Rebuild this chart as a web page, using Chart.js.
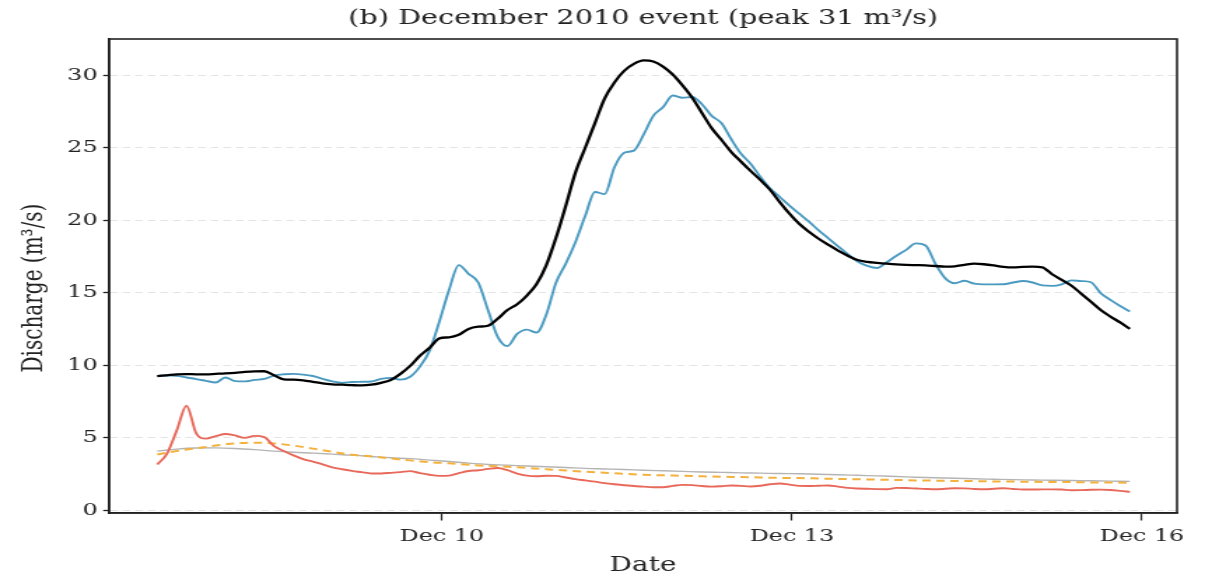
<!DOCTYPE html>
<html>
<head>
<meta charset="utf-8">
<script src="https://cdn.jsdelivr.net/npm/chart.js@4.4.0/dist/chart.umd.min.js"></script>
<style>
  html, body { margin: 0; padding: 0; background: #fff; }
  canvas { display: block; }
</style>
</head>
<body>
<!-- drawn narrow and stretched sideways, like the source figure -->
<canvas id="chart" width="866" height="575" style="width:1212px;height:575px"></canvas>
<script>
// time axis: day of December 2010
const START_DAY = 7.5625;   // 7 Dec 13:30
const STEP_MAIN = 2;        // hours between readings
const STEP_SMOOTH = 4;

const TITLE = '(b) December 2010 event (peak 31 m³/s)';
const Y_LABEL = 'Discharge (m³/s)';
const tickDays = [10, 13, 16];
const tickLabels = ['Dec 10', 'Dec 13', 'Dec 16'];

// blue, every 2 h
const observed = [
  9.25, 9.3, 9.26, 9.15, 9.04, 8.92, 8.8, 9.15, 8.9, 8.88,
  8.98, 9.05, 9.28, 9.37, 9.4, 9.35, 9.25, 9.05, 8.88, 8.78,
  8.84, 8.85, 8.87, 9.05, 9.12, 9.0, 9.2, 9.9, 11.0, 13.0,
  15.2, 16.9, 16.3, 15.7, 13.8, 11.95, 11.31, 12.15, 12.45, 12.25,
  13.5, 15.7, 17.0, 18.5, 20.3, 21.95, 21.8, 23.65, 24.65, 24.8,
  25.9, 27.2, 27.8, 28.6, 28.45, 28.5, 28.0, 27.2, 26.7, 25.6,
  24.6, 23.9, 23.0, 22.2, 21.6, 21.0, 20.45, 19.9, 19.3, 18.75,
  18.2, 17.65, 17.15, 16.85, 16.7, 17.1, 17.55, 17.95, 18.4, 18.25,
  17.0, 16.0, 15.65, 15.82, 15.62, 15.57, 15.57, 15.58, 15.7, 15.8,
  15.7, 15.5, 15.47, 15.58, 15.85, 15.8, 15.72, 14.97, 14.5, 14.08,
  13.7
];

// black, every 2 h
const simulated = [
  9.24, 9.3, 9.36, 9.38, 9.37, 9.37, 9.4, 9.43, 9.47, 9.53,
  9.57, 9.58, 9.3, 9.02, 9.0, 8.95, 8.85, 8.74, 8.68, 8.65,
  8.62, 8.6, 8.65, 8.78, 8.98, 9.4, 9.95, 10.65, 11.2, 11.85,
  11.92, 12.1, 12.5, 12.65, 12.72, 13.2, 13.8, 14.2, 14.8, 15.6,
  16.9, 18.8, 21.0, 23.3, 25.0, 26.7, 28.4, 29.5, 30.3, 30.78,
  31.02, 30.95, 30.6, 30.05, 29.3, 28.45, 27.4, 26.35, 25.55, 24.72,
  24.05, 23.4, 22.78, 22.1, 21.25, 20.45, 19.75, 19.2, 18.72, 18.3,
  17.9, 17.55, 17.25, 17.13, 17.06, 17.0, 16.95, 16.92, 16.9, 16.88,
  16.84, 16.8, 16.82, 16.92, 17.0, 16.96, 16.88, 16.78, 16.74, 16.78,
  16.8, 16.75, 16.27, 15.88, 15.48, 14.93, 14.37, 13.8, 13.35, 12.95,
  12.5
];

// red, every 2 h
const quickflow = [
  3.15, 3.9, 5.5, 7.2, 5.3, 4.93, 5.1, 5.25, 5.15, 4.98,
  5.12, 5.04, 4.41, 4.08, 3.78, 3.52, 3.35, 3.15, 2.95, 2.82,
  2.71, 2.62, 2.53, 2.53, 2.57, 2.62, 2.69, 2.55, 2.44, 2.36,
  2.38, 2.55, 2.7, 2.75, 2.84, 2.9, 2.75, 2.52, 2.38, 2.34,
  2.37, 2.36, 2.25, 2.14, 2.05, 1.96, 1.86, 1.78, 1.71, 1.66,
  1.62, 1.58, 1.58, 1.67, 1.74, 1.72, 1.66, 1.62, 1.65, 1.7,
  1.67, 1.63, 1.68, 1.78, 1.84, 1.76, 1.67, 1.66, 1.68, 1.7,
  1.62, 1.53, 1.49, 1.47, 1.45, 1.44, 1.53, 1.52, 1.49, 1.46,
  1.44, 1.47, 1.51, 1.5, 1.46, 1.44, 1.47, 1.51, 1.46, 1.42,
  1.42, 1.43, 1.43, 1.42, 1.37, 1.38, 1.4, 1.41, 1.39, 1.33,
  1.26
];

// orange dashed and grey, every 4 h
const interflow = [
  3.84, 4.08, 4.26, 4.45, 4.6, 4.65, 4.6, 4.45, 4.24, 4.02,
  3.82, 3.7, 3.56, 3.43, 3.3, 3.23, 3.13, 3.05, 2.99, 2.91,
  2.82, 2.73, 2.65, 2.58, 2.5, 2.44, 2.4, 2.37, 2.33, 2.3,
  2.28, 2.25, 2.22, 2.21, 2.18, 2.15, 2.13, 2.1, 2.08, 2.05,
  2.03, 2.01, 2.0, 1.98, 1.97, 1.95, 1.94, 1.93, 1.91, 1.9,
  1.89
];
const baseflow = [
  4.07, 4.21, 4.28, 4.29, 4.25, 4.17, 4.07, 3.99, 3.93, 3.86,
  3.79, 3.7, 3.61, 3.55, 3.45, 3.35, 3.24, 3.15, 3.1, 3.04,
  2.99, 2.94, 2.88, 2.84, 2.8, 2.75, 2.71, 2.67, 2.63, 2.6,
  2.57, 2.55, 2.52, 2.51, 2.47, 2.44, 2.4, 2.36, 2.32, 2.27,
  2.23, 2.2, 2.16, 2.13, 2.1, 2.08, 2.06, 2.04, 2.02, 2.0,
  1.98
];

const FONT = "'DejaVu Serif', serif";
const INK = '#222';

function toPoints(values, stepHours) {
  return values.map((v, i) => ({ x: START_DAY + i * stepHours / 24, y: v }));
}

function line(label, values, step, color, width, dash) {
  return {
    label: label,
    data: toPoints(values, step),
    borderColor: color,
    backgroundColor: color,
    borderWidth: width,
    borderDash: dash || [],
    pointRadius: 0,
    cubicInterpolationMode: 'monotone',
    fill: false,
  };
}

// box round the plot, title over the plot area, y label (matplotlib style)
const frame = {
  id: 'frame',
  afterDraw(chart) {
    const { ctx, chartArea: a } = chart;
    ctx.save();
    ctx.strokeStyle = INK;
    ctx.lineWidth = 1.6;
    ctx.strokeRect(a.left, a.top, a.right - a.left, a.bottom - a.top);

    ctx.fillStyle = INK;
    ctx.textAlign = 'center';
    ctx.textBaseline = 'middle';
    ctx.font = '20.5px ' + FONT;
    ctx.fillText(TITLE, (a.left + a.right) / 2, 19);

    ctx.font = '20px ' + FONT;
    ctx.translate(25, 288);
    ctx.rotate(-Math.PI / 2);
    ctx.fillText(Y_LABEL, 0, 0);
    ctx.restore();
  }
};

new Chart(document.getElementById('chart'), {
  type: 'line',
  data: {
    datasets: [
      line('Simulated', simulated, STEP_MAIN, '#000000', 2.3),
      line('Observed', observed, STEP_MAIN, '#4a9ac0', 1.9),
      line('Quick flow', quickflow, STEP_MAIN, '#e8685a', 1.9),
      line('Interflow', interflow, STEP_SMOOTH, '#f3b13e', 2.0, [6, 4]),
      line('Baseflow', baseflow, STEP_SMOOTH, '#b4b4b4', 1.4),
    ]
  },
  options: {
    responsive: false,
    animation: false,
    devicePixelRatio: 1,
    layout: { padding: { left: 13, right: 25, top: 39, bottom: 0 } },
    plugins: {
      legend: { display: false },
      tooltip: { enabled: false },
      title: { display: false },
    },
    scales: {
      x: {
        type: 'linear',
        min: 7.15,
        max: 16.3,
        afterBuildTicks: (scale) => { scale.ticks = tickDays.map(v => ({ value: v })); },
        afterFit: (scale) => { scale.height = 62; },
        ticks: {
          callback: (v) => tickLabels[tickDays.indexOf(v)],
          color: INK,
          font: { family: FONT, size: 17 },
          padding: 6,
          maxRotation: 0,
          autoSkip: false,
        },
        grid: {
          drawOnChartArea: false,
          tickLength: 7.5,
          tickColor: INK,
          tickWidth: 1.2,
        },
        border: { color: INK, width: 1.6 },
        title: {
          display: true,
          text: 'Date',
          color: INK,
          font: { family: FONT, size: 20 },
          padding: { top: 0, bottom: -3 },
        },
      },
      y: {
        min: -0.2,
        max: 32.5,
        afterFit: (scale) => { scale.width = 65; },
        ticks: {
          stepSize: 5,
          includeBounds: false,
          color: INK,
          font: { family: FONT, size: 17 },
          padding: 4,
        },
        grid: {
          color: '#e4e4e4',
          lineWidth: 1,
          tickLength: 4.3,
          tickColor: INK,
          tickWidth: 1.3,
        },
        border: { color: INK, width: 1.6, dash: [5.5, 3.5] },
        title: { display: false },
      },
    },
  },
  plugins: [frame],
});
</script>
</body>
</html>
